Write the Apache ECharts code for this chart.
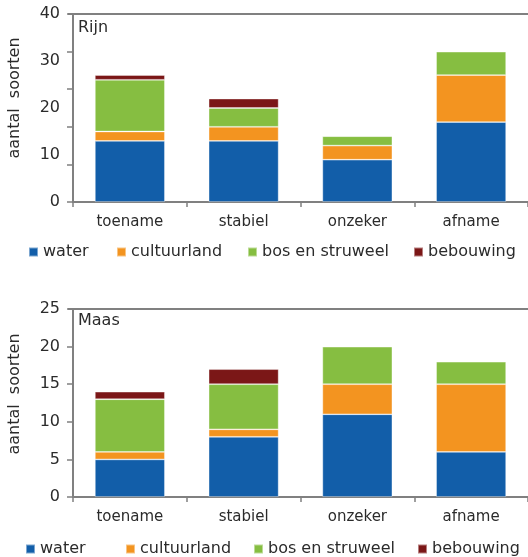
<!DOCTYPE html>
<html>
<head>
<meta charset="utf-8">
<script src="https://cdn.jsdelivr.net/npm/echarts@6/dist/echarts.min.js"></script>
<style>
html,body{margin:0;padding:0;background:#fff;}
#c{width:528px;height:557px;}
</style>
</head>
<body>
<div id="c"></div>
<script>
const categories = ['toename', 'stabiel', 'onzeker', 'afname'];
const seriesNames = ['water', 'cultuurland', 'bos en struweel', 'bebouwing'];
const colors = ['#125EA9', '#F39420', '#86BE41', '#7B1717'];

// Rijn
const rijnWater = [13, 13, 9, 17];
const rijnCultuurland = [2, 3, 3, 10];
const rijnBos = [11, 4, 2, 5];
const rijnBebouwing = [1, 2, 0, 0];

// Maas
const maasWater = [5, 8, 11, 6];
const maasCultuurland = [1, 1, 4, 9];
const maasBos = [7, 6, 5, 3];
const maasBebouwing = [1, 2, 0, 0];

const rijnTicks = [0, 10, 20, 30, 40];
const maasTicks = [0, 5, 10, 15, 20, 25];

const FONT = 'DejaVu Sans';
const TXT = '#2b2b2b';
const AX = '#808080';
const GRID_LEFT = 73;

const chart = echarts.init(document.getElementById('c'), null, {renderer: 'canvas'});

function xAxis(gridIndex) {
  return {
    type: 'category', gridIndex: gridIndex, data: categories, position: 'bottom',
    axisLine: {show: true, onZero: false, lineStyle: {color: AX, width: 2}},
    axisTick: {show: true, inside: false, length: 5, lineStyle: {color: AX, width: 1.5}},
    axisLabel: {color: TXT, fontFamily: FONT, fontSize: 15, margin: 13},
    splitLine: {show: false}
  };
}

const rijnMax = rijnTicks[rijnTicks.length - 1];
const maasMax = maasTicks[maasTicks.length - 1];

const option = {
  animation: false,
  backgroundColor: '#fff',
  color: colors,
  grid: [
    {left: GRID_LEFT, right: 0, top: 14, height: 188},
    {left: GRID_LEFT, right: 0, top: 309, height: 188}
  ],
  xAxis: [xAxis(0), xAxis(1)],
  yAxis: [
    {
      type: 'value', gridIndex: 0, min: 0, max: rijnMax, interval: rijnTicks[1] - rijnTicks[0],
      axisLine: {show: true, onZero: false, lineStyle: {color: AX, width: 2}},
      axisTick: {show: false},
      axisLabel: {color: TXT, fontFamily: FONT, fontSize: 16, margin: 13},
      splitLine: {show: false}
    },
    {
      type: 'value', gridIndex: 0, min: 0, max: rijnMax, interval: 8, position: 'left',
      axisLine: {show: false, onZero: false},
      axisTick: {show: true, length: 6, lineStyle: {color: AX, width: 1.5}},
      axisLabel: {show: false},
      splitLine: {show: false}
    },
    {
      type: 'value', gridIndex: 1, min: 0, max: maasMax, interval: maasTicks[1] - maasTicks[0],
      axisLine: {show: true, onZero: false, lineStyle: {color: AX, width: 2}},
      axisTick: {show: true, length: 6, lineStyle: {color: AX, width: 1.5}},
      axisLabel: {color: TXT, fontFamily: FONT, fontSize: 16, margin: 13},
      splitLine: {show: false}
    }
  ],
  legend: [],
  graphic: [
    {id: 't1', type: 'text', x: 78, y: 28, style: {text: 'Rijn', font: '16px "DejaVu Sans"', fill: TXT, textVerticalAlign: 'middle'}},
    {id: 't2', type: 'text', x: 78, y: 321, style: {text: 'Maas', font: '16px "DejaVu Sans"', fill: TXT, textVerticalAlign: 'middle'}},
    {id: 't3', type: 'text', x: 15, y: 98, rotation: Math.PI / 2, style: {text: 'aantal  soorten', font: '16px "DejaVu Sans"', fill: TXT, textAlign: 'center', textVerticalAlign: 'middle'}},
    {id: 't4', type: 'text', x: 15, y: 394, rotation: Math.PI / 2, style: {text: 'aantal  soorten', font: '16px "DejaVu Sans"', fill: TXT, textAlign: 'center', textVerticalAlign: 'middle'}}
  ],
  series: []
};

const rijnData = [rijnWater, rijnCultuurland, rijnBos, rijnBebouwing];
const maasData = [maasWater, maasCultuurland, maasBos, maasBebouwing];

function addSeries(dataSets, xIdx, yIdx, stack) {
  dataSets.forEach(function (d, i) {
    option.series.push({
      name: seriesNames[i], type: 'bar', stack: stack,
      xAxisIndex: xIdx, yAxisIndex: yIdx,
      barWidth: 70,
      itemStyle: {color: colors[i], borderColor: 'rgba(255,255,255,0.45)', borderWidth: 0.8},
      data: d
    });
  });
}
addSeries(rijnData, 0, 0, 'rijn');
addSeries(maasData, 1, 2, 'maas');

const topLegendX = [28, 116, 247, 413];
const botLegendX = [25, 125, 253, 417];
function addLegends(xs, top) {
  xs.forEach(function (x, i) {
    option.legend.push({
      data: [seriesNames[i]], left: x, top: top, padding: 0,
      itemWidth: 9, itemHeight: 9, itemGap: 0,
      icon: 'rect',
      textStyle: {color: TXT, fontFamily: FONT, fontSize: 16, lineHeight: 16}
    });
  });
}
addLegends(topLegendX, 244);
addLegends(botLegendX, 541);

chart.setOption(option);

// Top frame edges of both panels, placed at each axis' maximum via the library's scale
const yTop1 = chart.convertToPixel({yAxisIndex: 0}, rijnMax);
const yTop2 = chart.convertToPixel({yAxisIndex: 2}, maasMax);
const W = chart.getWidth();
chart.setOption({
  graphic: [
    {id: 'f1', type: 'line', shape: {x1: GRID_LEFT - 5, y1: yTop1, x2: W, y2: yTop1}, style: {stroke: AX, lineWidth: 2}, z: 10},
    {id: 'f2', type: 'line', shape: {x1: GRID_LEFT - 5, y1: yTop2, x2: W, y2: yTop2}, style: {stroke: AX, lineWidth: 2}, z: 10}
  ]
});
</script>
</body>
</html>
